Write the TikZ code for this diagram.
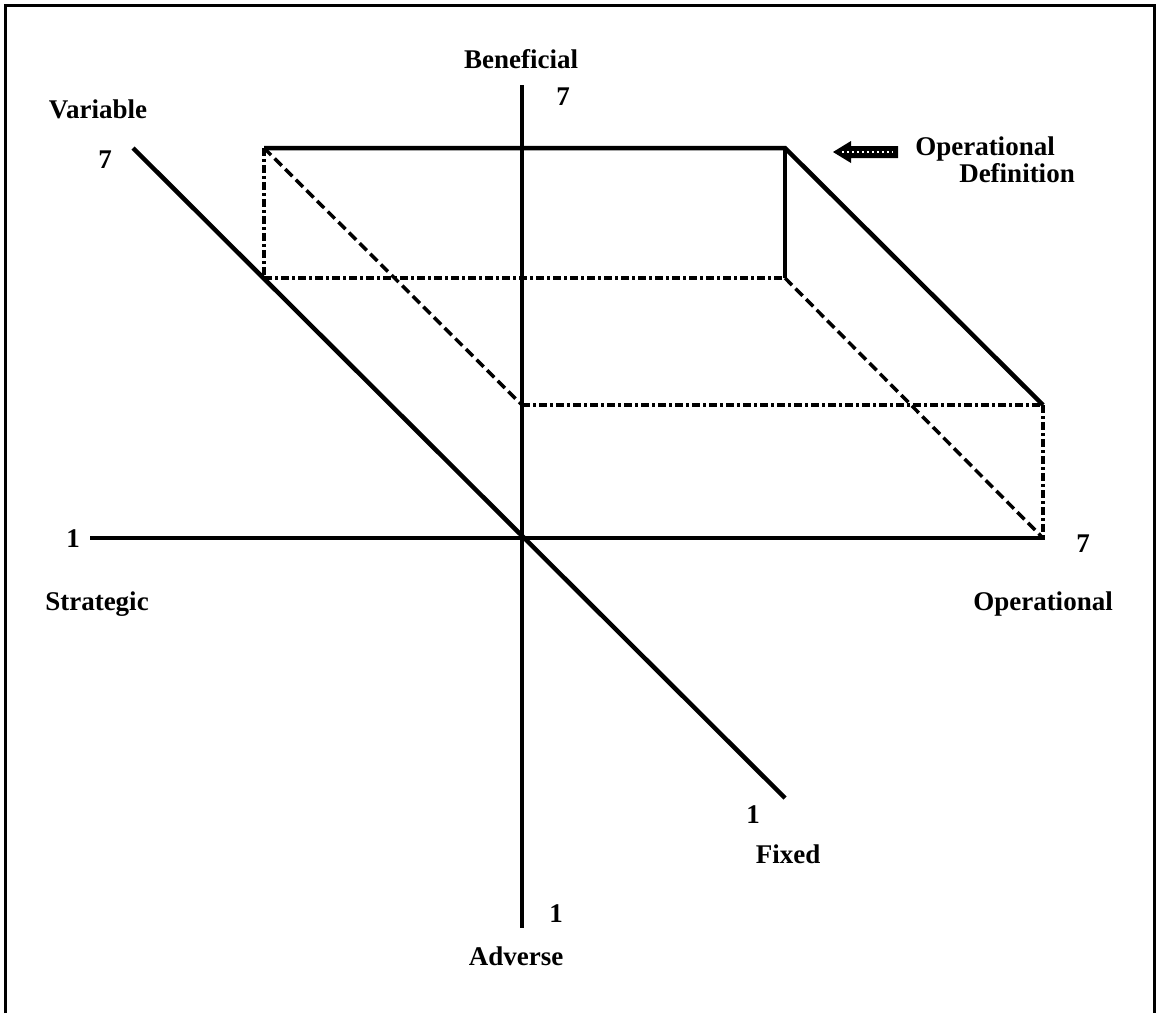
\documentclass[tikz,border=0pt]{standalone}
\usepackage{fontspec}
\setmainfont{Liberation Serif}
\usetikzlibrary{calc}
\begin{document}
\begin{tikzpicture}[x=1pt,y=-1pt,
  frameline/.style={line width=3pt},
  axisline/.style={line width=4.5pt},
  solidedge/.style={line width=4.5pt},
  dashdotedge/.style={line width=4.5pt, dash pattern=on 8pt off 3pt on 3pt off 3pt},
  hiddenedge/.style={line width=3.5pt, dash pattern=on 10pt off 5pt},
  lbl/.style={font=\fontsize{27}{30}\selectfont\bfseries, inner sep=0pt, anchor=base}]
\useasboundingbox (0,0) rectangle (1157,1013);

% open frame (bottom edge runs off the page)
\draw[frameline] (5,1013) -- (5,5) -- (1154,5) -- (1154,1013);

% axis end points
\coordinate (O)  at (522,538);
\coordinate (hL) at (90,538);
\coordinate (hR) at (1045,538);
\coordinate (vT) at (522,85);
\coordinate (vB) at (522,928);
\coordinate (dT) at (133,148);
\coordinate (dB) at (785,798);

% box corners
\coordinate (A)  at (264,148);
\coordinate (B)  at (785,148);
\coordinate (C)  at (1043,405);
\coordinate (D)  at (522,405);
\coordinate (A2) at (264,278);
\coordinate (B2) at (785,278);
\coordinate (C2) at (1043,538);

% axes
\draw[axisline] (hL) -- (hR);
\draw[axisline] (vT) -- (vB);
\draw[axisline] (dT) -- (dB);

% box: visible edges
\draw[solidedge] (A) -- (B) -- (C);
\draw[solidedge] (B) -- (B2);
% box: dash-dot edges
\draw[dashdotedge] (A) -- (A2);
\draw[dashdotedge] (A2) -- (B2);
\draw[dashdotedge] (D) -- (C);
\draw[dashdotedge] (C) -- (C2);
% box: dashed diagonals
\draw[hiddenedge] (A) -- (D);
\draw[hiddenedge] (B2) -- (C2);

% labels
\node[lbl] (beneficial) at (521,68) {Beneficial};
\node[lbl] (vtop) at (563,105) {7};
\node[lbl] (variable) at (98,118) {Variable};
\node[lbl] (dtop) at (105,168) {7};
\node[lbl] (opdef1) at (985,155) {Operational};
\node[lbl] (opdef2) at (1017,182) {Definition};
\node[lbl] (hleft) at (73,547) {1};
\node[lbl] (strategic) at (97,610) {Strategic};
\node[lbl] (hright) at (1083,552) {7};
\node[lbl] (operational) at (1043,610) {Operational};
\node[lbl] (dbot) at (753,823) {1};
\node[lbl] (fixed) at (788,863) {Fixed};
\node[lbl] (vbot) at (556,922) {1};
\node[lbl] (adverse) at (516,965) {Adverse};

% block arrow pointing at the top face
\coordinate (arrTip) at (833,152);
\coordinate (arrTail) at (898,152);
\fill (arrTip) -- ++(18,-11) -- ++(0,5) -- ($(arrTail)+(0,-6)$) -- ($(arrTail)+(0,6)$) -- ($(arrTip)+(18,6)$) -- ++(0,5) -- cycle;
\draw[white, line width=2pt, dash pattern=on 2pt off 3pt] ($(arrTip)+(9,0)$) -- ($(arrTail)+(-5,0)$);
\end{tikzpicture}
\end{document}
